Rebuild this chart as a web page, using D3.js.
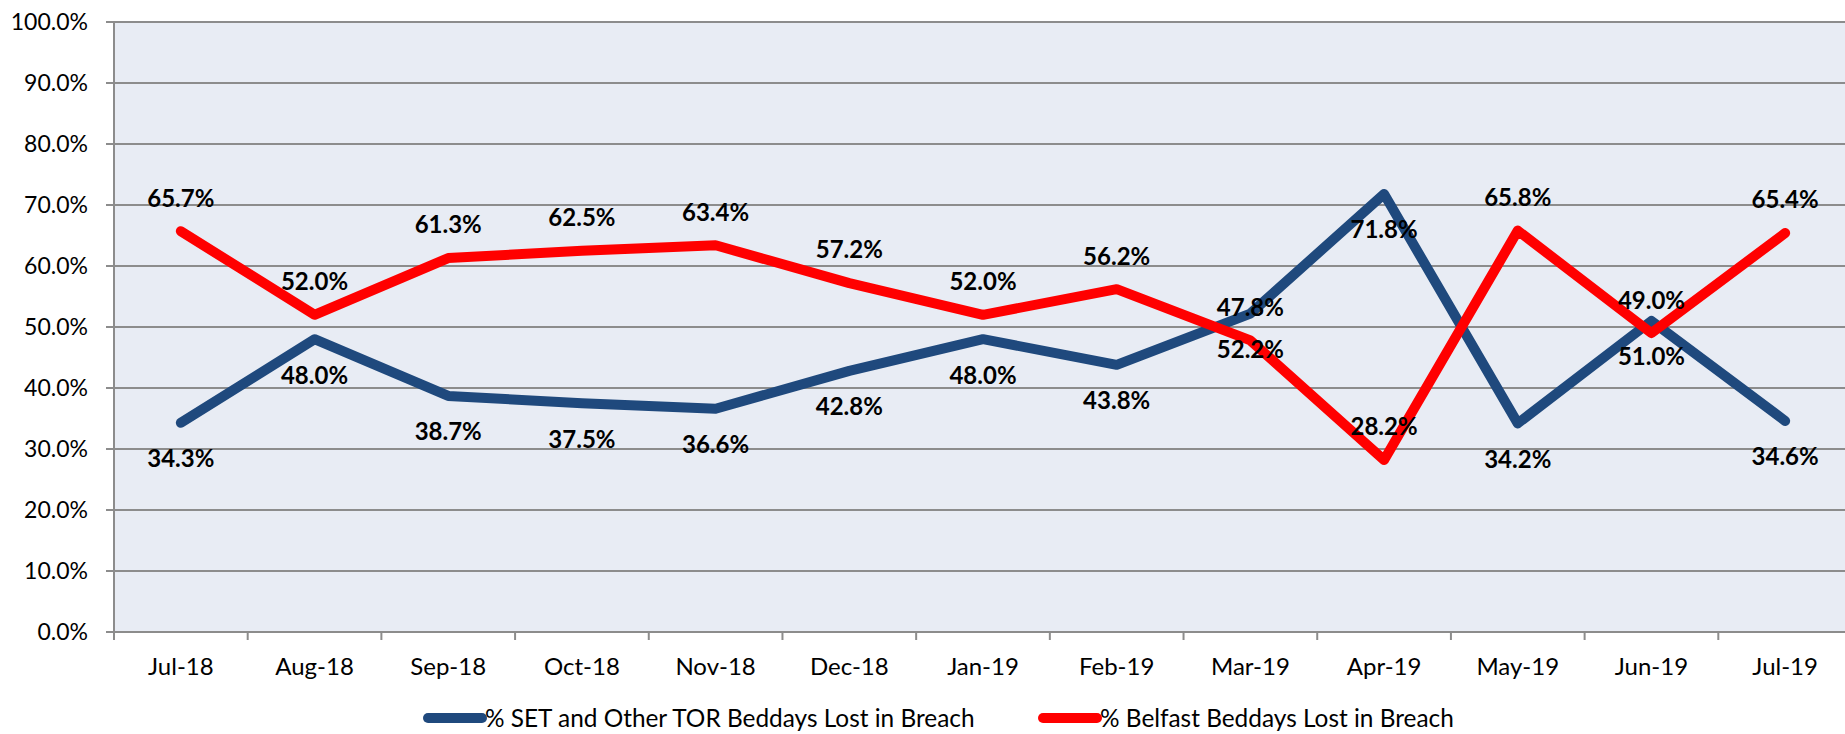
<!DOCTYPE html>
<html><head><meta charset="utf-8">
<script src="https://cdn.jsdelivr.net/npm/d3@7/dist/d3.min.js"></script>
<style>
body{margin:0;background:#fff;}
svg{display:block;}
text{font-family:Lato,"Open Sans",sans-serif;fill:#000;}
</style></head><body>
<svg id="chart" width="1845" height="734"></svg>
<script>
const categories = ["Jul-18","Aug-18","Sep-18","Oct-18","Nov-18","Dec-18","Jan-19","Feb-19","Mar-19","Apr-19","May-19","Jun-19","Jul-19"];
const setValues = [34.3,48.0,38.7,37.5,36.6,42.8,48.0,43.8,52.2,71.8,34.2,51.0,34.6];
const belfastValues = [65.7,52.0,61.3,62.5,63.4,57.2,52.0,56.2,47.8,28.2,65.8,49.0,65.4];
const yTicks = [0,10,20,30,40,50,60,70,80,90,100];
const seriesNames = ["% SET and Other TOR Beddays Lost in Breach","% Belfast Beddays Lost in Breach"];

(function(){
const svg = d3.select("#chart");
const pL = 114, pT = 22, pB = 632, pR = 1852;
const x = d3.scaleBand().domain(categories).range([pL, pR]).paddingInner(0).paddingOuter(0);
const y = d3.scaleLinear().domain([0,100]).range([pB, pT]);
const cx = d => x(d) + x.bandwidth()/2;

svg.append("rect").attr("x",pL).attr("y",pT).attr("width",pR-pL).attr("height",pB-pT).attr("fill","#E8ECF4");

svg.append("g").selectAll("line").data(yTicks).join("line")
  .attr("x1",pL-8).attr("x2",pR).attr("y1",d=>y(d)).attr("y2",d=>y(d))
  .attr("stroke","#8c8c8c").attr("stroke-width",2);
svg.append("line").attr("x1",pL).attr("x2",pL).attr("y1",pT).attr("y2",pB+8).attr("stroke","#8c8c8c").attr("stroke-width",2);
svg.append("g").selectAll("line").data(categories.slice(1)).join("line")
  .attr("x1",d=>x(d)).attr("x2",d=>x(d)).attr("y1",pB).attr("y2",pB+8)
  .attr("stroke","#8c8c8c").attr("stroke-width",2);

svg.append("g").selectAll("text").data(yTicks).join("text")
  .attr("x",88).attr("y",d=>y(d)).attr("dy","0.35em").attr("text-anchor","end")
  .style("font-size","23px").text(d=>d.toFixed(1)+"%");
svg.append("g").selectAll("text").data(categories).join("text")
  .attr("x",d=>cx(d)).attr("y",667).attr("dy","0.35em").attr("text-anchor","middle")
  .style("font-size","24px").text(d=>d);

const line = d3.line().x((d,i)=>cx(categories[i])).y(d=>y(d));
const series = [
  {name:seriesNames[0], values:setValues, color:"#1F497D", off:36},
  {name:seriesNames[1], values:belfastValues, color:"#FF0000", off:-33}
];
series.forEach(s=>{
  svg.append("path").datum(s.values).attr("d",line).attr("fill","none")
    .attr("stroke",s.color).attr("stroke-width",10).attr("stroke-linejoin","round").attr("stroke-linecap","round");
});
series.forEach(s=>{
  svg.append("g").selectAll("text").data(s.values).join("text")
    .attr("x",(d,i)=>cx(categories[i])).attr("y",d=>y(d)+s.off).attr("dy","0.35em")
    .attr("text-anchor","middle").style("font-size","24px").style("font-weight","bold")
    .text(d=>d.toFixed(1)+"%");
});

const legY = 718;
const leg = [{x1:428,x2:482,tx:485},{x1:1043,x2:1097,tx:1100}];
series.forEach((s,i)=>{
  svg.append("line").attr("x1",leg[i].x1).attr("x2",leg[i].x2).attr("y1",legY).attr("y2",legY)
    .attr("stroke",s.color).attr("stroke-width",10).attr("stroke-linecap","round");
  svg.append("text").attr("x",leg[i].tx).attr("y",legY).attr("dy","0.35em")
    .style("font-size","24.4px").text(s.name);
});
})();
</script></body></html>
